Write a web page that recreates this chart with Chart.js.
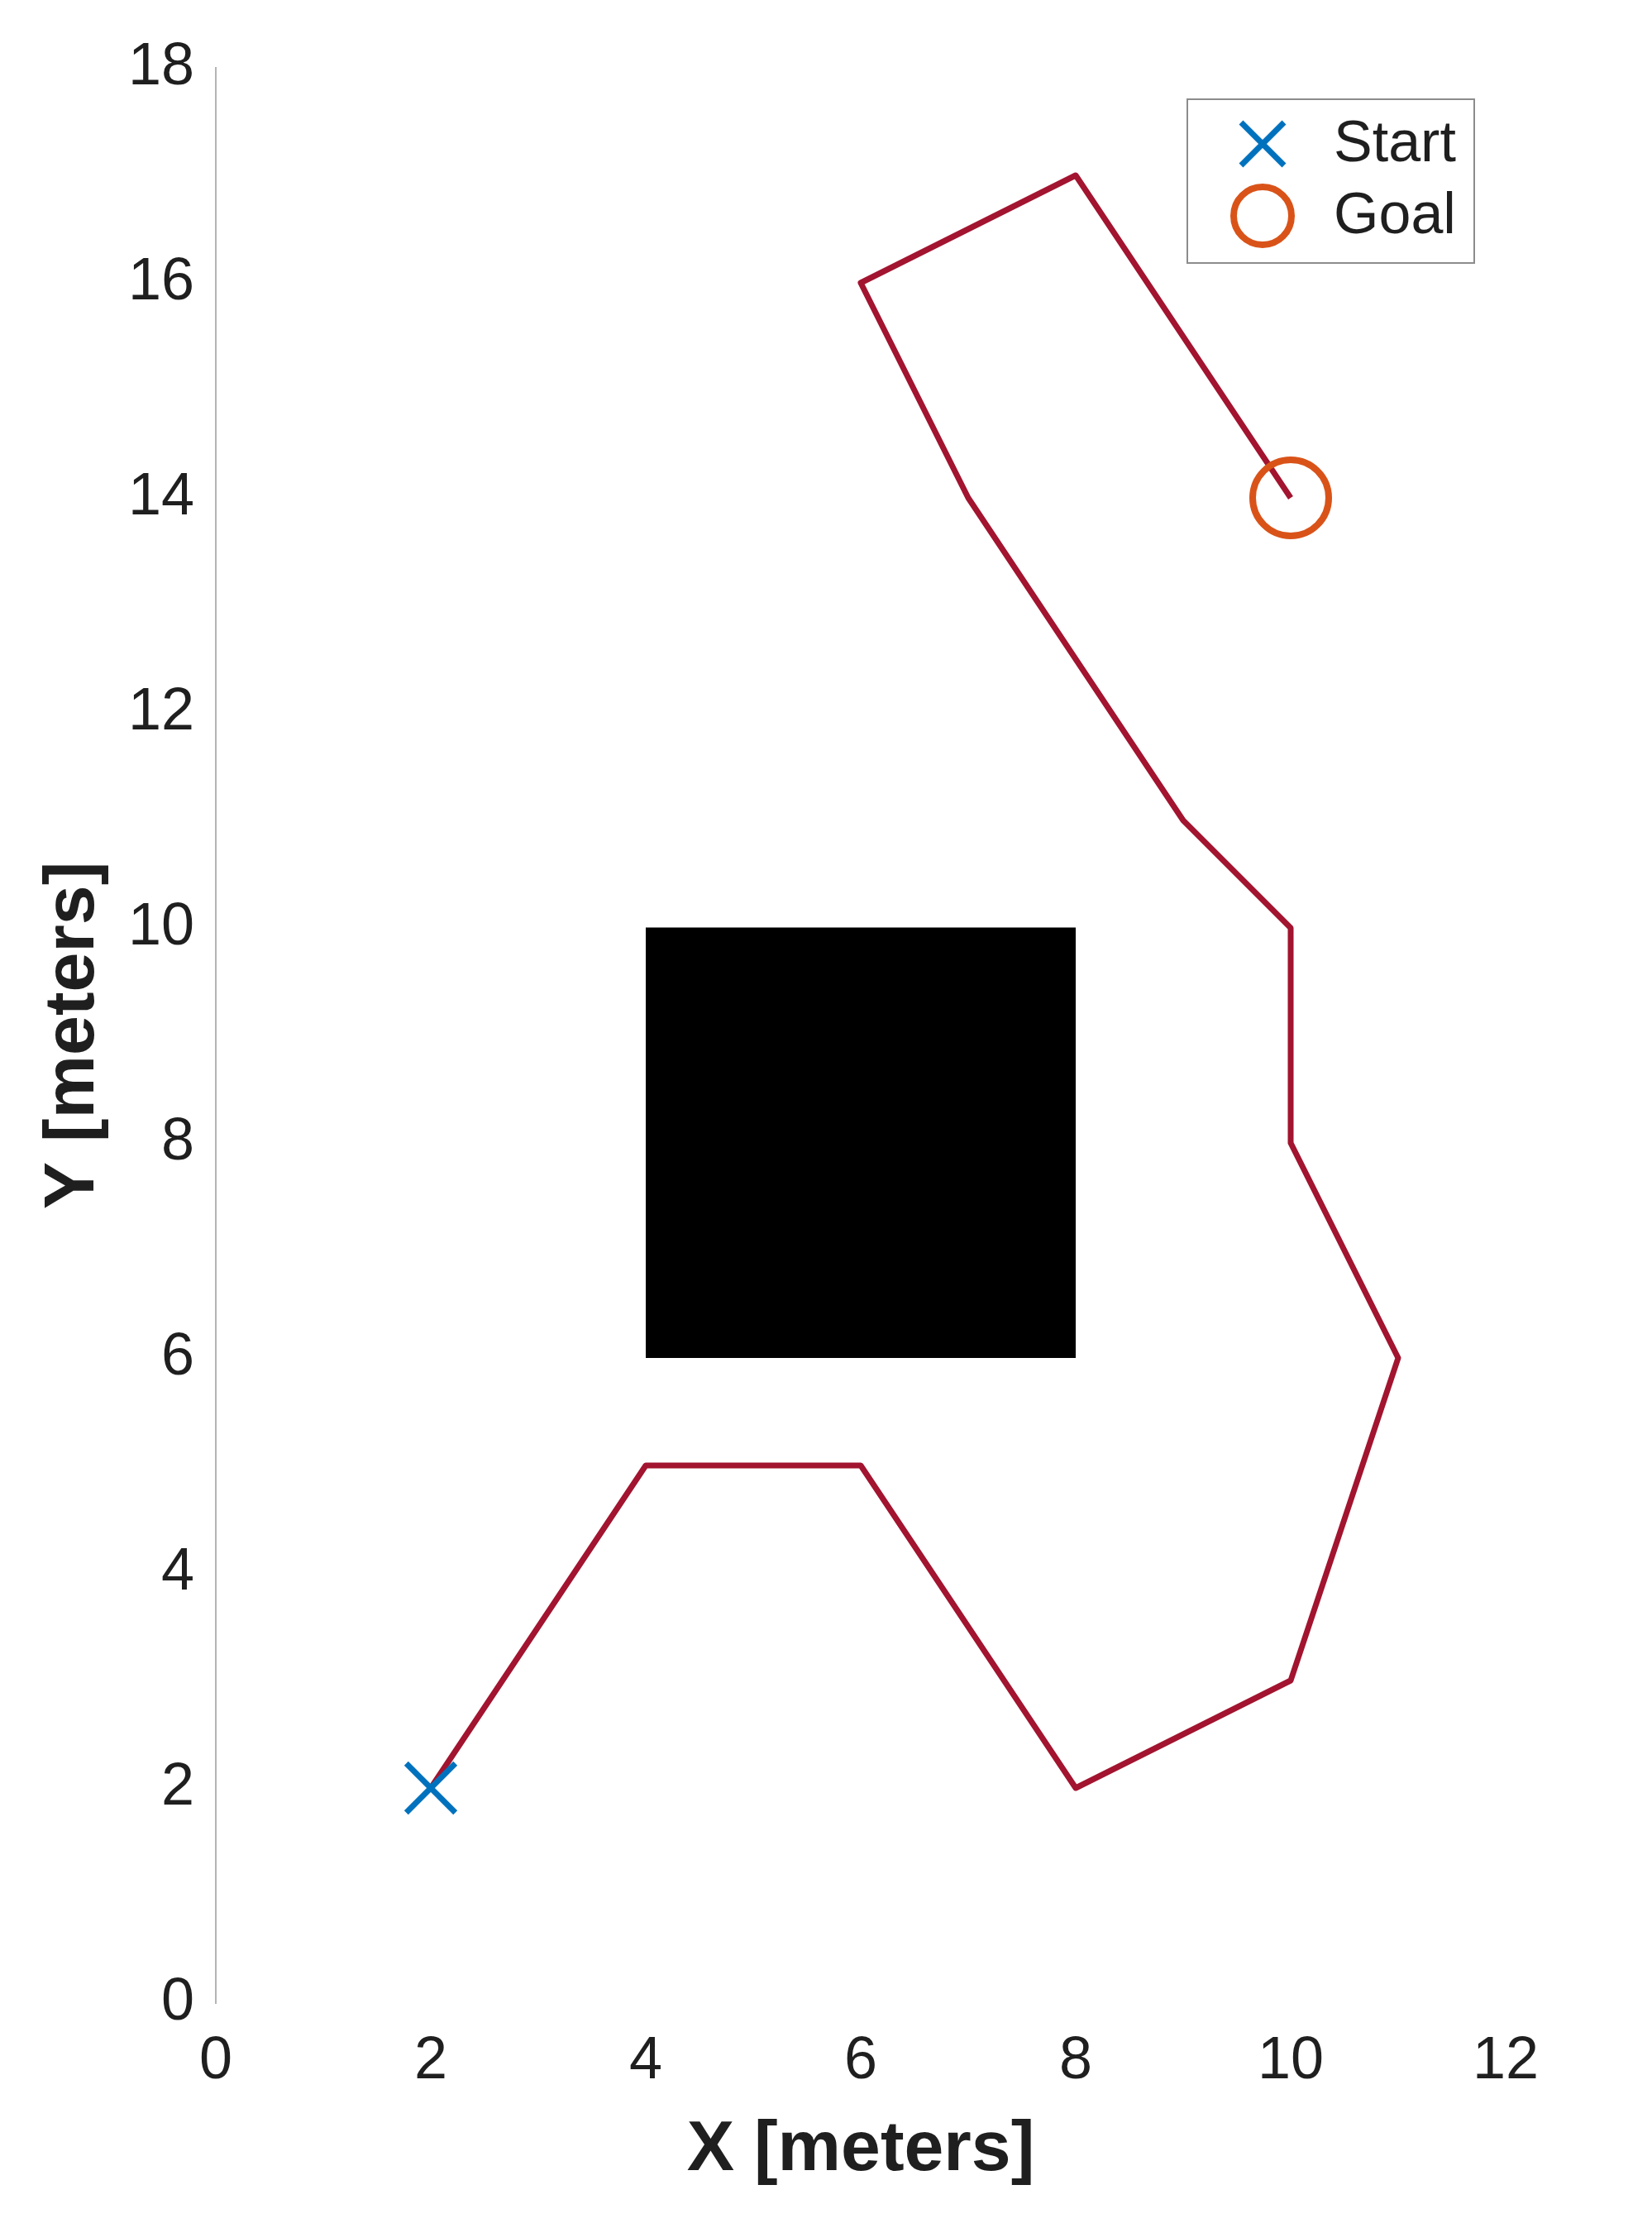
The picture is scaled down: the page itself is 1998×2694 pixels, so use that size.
<!DOCTYPE html>
<html>
<head>
<meta charset="utf-8">
<title>Path plot</title>
<script src="https://cdn.jsdelivr.net/npm/chart.js@4/dist/chart.umd.min.js"></script>
<style>
  html, body { margin: 0; padding: 0; background: #fff; }
  canvas { display: block; }
</style>
</head>
<body>
<canvas id="pathChart" width="1998" height="2694"></canvas>
<script>
/* planned path around one square obstacle */

const PATH_X = [2, 4, 6, 8, 10, 11, 10, 10, 9, 7, 6, 8, 10];
const PATH_Y = [2, 5, 5, 2, 3, 6, 8, 10, 11, 14, 16, 17, 14];

const START = { x: 2, y: 2 };
const GOAL = { x: 10, y: 14 };

const OBSTACLE_X = [4, 8];
const OBSTACLE_TOP = 10;
const OBSTACLE_BOTTOM = 6;

const X_TICKS = [0, 2, 4, 6, 8, 10, 12];
const Y_TICKS = [0, 2, 4, 6, 8, 10, 12, 14, 16, 18];

const FONT = "'Liberation Sans', Arial, Helvetica, sans-serif";
const TEXT = "#1f1f1f";
const BLUE = "#0072BD";
const ORANGE = "#D95319";
const PATH_RED = "#A2142F";

// legend box in the upper right, drawn by hand like MATLAB's
const boxLegend = {
  id: "boxLegend",
  afterDraw(chart) {
    const ctx = chart.ctx;
    const items = chart.data.datasets.filter((d) => d.inLegend);
    const left = 1436, top = 120, w = 347, rowH = 87;
    const h = 24 + rowH * items.length;
    ctx.save();
    ctx.fillStyle = "#fff";
    ctx.fillRect(left, top, w, h);
    ctx.strokeStyle = "#8c8c8c";
    ctx.lineWidth = 2;
    ctx.strokeRect(left, top, w, h);
    items.forEach((d, i) => {
      const cy = top + 54 + i * rowH;
      const cx = left + 91;
      ctx.strokeStyle = d.borderColor;
      ctx.lineWidth = d.borderWidth;
      ctx.beginPath();
      if (d.pointStyle === "crossRot") {
        const r = 26;
        ctx.moveTo(cx - r, cy - r); ctx.lineTo(cx + r, cy + r);
        ctx.moveTo(cx - r, cy + r); ctx.lineTo(cx + r, cy - r);
      } else {
        ctx.arc(cx, cy, 35, 0, Math.PI * 2);
      }
      ctx.stroke();
      ctx.fillStyle = TEXT;
      ctx.font = "70px " + FONT;
      ctx.textBaseline = "middle";
      ctx.textAlign = "left";
      ctx.fillText(d.label, left + 177, cy + 2);
    });
    ctx.restore();
  },
};

function makeChart() {
  new Chart(document.getElementById("pathChart"), {
    type: "scatter",
    data: {
      datasets: [
        {
          label: "Start",
          inLegend: true,
          data: [START],
          pointStyle: "crossRot",
          pointRadius: 42,
          borderColor: BLUE,
          backgroundColor: BLUE,
          borderWidth: 7,
          clip: false,
          order: 0,
        },
        {
          label: "Goal",
          inLegend: true,
          data: [GOAL],
          pointStyle: "circle",
          pointRadius: 46,
          borderColor: ORANGE,
          backgroundColor: "rgba(0,0,0,0)",
          borderWidth: 8,
          clip: false,
          order: 0,
        },
        {
          label: "Path",
          data: PATH_X.map((x, i) => ({ x, y: PATH_Y[i] })),
          showLine: true,
          borderColor: PATH_RED,
          borderWidth: 7,
          borderJoinStyle: "round",
          pointRadius: 0,
          tension: 0,
          order: 1,
        },
        {
          label: "Obstacle",
          data: OBSTACLE_X.map((x) => ({ x, y: OBSTACLE_TOP })),
          showLine: true,
          borderColor: "#000",
          backgroundColor: "#000",
          borderWidth: 1,
          pointRadius: 0,
          fill: { value: OBSTACLE_BOTTOM },
          order: 2,
        },
      ],
    },
    options: {
      responsive: false,
      animation: false,
      layout: { padding: { left: 0, top: 82, right: 177, bottom: 0 } },
      scales: {
        x: {
          type: "linear",
          min: X_TICKS[0],
          max: X_TICKS[X_TICKS.length - 1],
          afterBuildTicks: (s) => { s.ticks = X_TICKS.map((v) => ({ value: v })); },
          afterFit: (s) => { s.height = 272; },
          grid: { display: false, drawTicks: false },
          border: { display: false },
          ticks: { color: TEXT, font: { family: FONT, size: 72 }, padding: 28, maxRotation: 0 },
          title: {
            display: true,
            text: "X [meters]",
            color: TEXT,
            font: { family: FONT, size: 86, weight: "bold" },
            padding: { top: 0, bottom: 42 },
          },
        },
        y: {
          type: "linear",
          min: Y_TICKS[0],
          max: Y_TICKS[Y_TICKS.length - 1],
          afterBuildTicks: (s) => { s.ticks = Y_TICKS.map((v) => ({ value: v })); },
          afterFit: (s) => { s.width = 261; },
          grid: { display: false, drawTicks: false },
          border: { display: true, color: "#b4b4b4", width: 2 },
          ticks: { color: TEXT, font: { family: FONT, size: 72 }, padding: 26 },
          title: {
            display: true,
            text: "Y [meters]",
            color: TEXT,
            font: { family: FONT, size: 86, weight: "bold" },
            padding: { top: 38, bottom: 0 },
          },
        },
      },
      plugins: {
        legend: { display: false },
        tooltip: { enabled: false },
      },
    },
    plugins: [boxLegend],
  });
}

makeChart();
</script>
</body>
</html>
